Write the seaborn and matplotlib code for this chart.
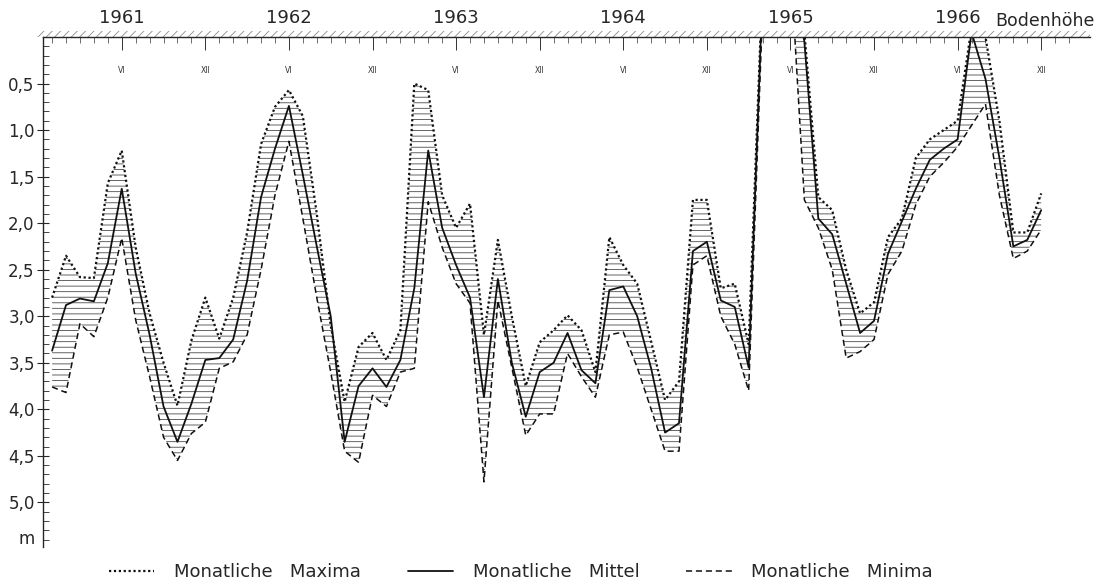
import numpy as np
import pandas as pd
import matplotlib
matplotlib.use('Agg')
from matplotlib import pyplot as plt
import seaborn as sns

# Flurabstand (m unter Bodenhoehe), monatlich Jan 1961 - Dez 1966
years = [1961, 1962, 1963, 1964, 1965, 1966]
month_labels = ['VI', 'XII']
y_ticks = [0.5, 1.0, 1.5, 2.0, 2.5, 3.0, 3.5, 4.0, 4.5, 5.0]
y_labels = ['0,5', '1,0', '1,5', '2,0', '2,5', '3,0', '3,5', '4,0', '4,5', '5,0']

maxima = [2.80, 2.35, 2.58, 2.59, 1.57, 1.22, 2.26, 2.97, 3.50, 3.96, 3.26, 2.80,
          3.24, 2.80, 2.10, 1.15, 0.75, 0.57, 0.85, 1.90, 3.10, 3.92, 3.33, 3.18,
          3.47, 3.15, 0.50, 0.57, 1.70, 2.05, 1.79, 3.20, 2.18, 3.00, 3.75, 3.28,
          3.15, 2.99, 3.15, 3.60, 2.15, 2.45, 2.65, 3.27, 3.90, 3.70, 1.75, 1.75,
          2.70, 2.65, 3.30, -0.60, -0.80, -0.80, -0.05, 1.72, 1.86, 2.50, 2.97, 2.85,
          2.15, 1.95, 1.30, 1.10, 1.00, 0.90, -0.10, 0.00, 0.90, 2.10, 2.10, 1.68]

mittel = [3.37, 2.88, 2.81, 2.84, 2.43, 1.63, 2.54, 3.20, 3.97, 4.35, 3.94, 3.47,
          3.45, 3.25, 2.62, 1.72, 1.20, 0.74, 1.48, 2.25, 3.00, 4.35, 3.75, 3.56,
          3.76, 3.47, 2.70, 1.22, 2.05, 2.45, 2.80, 3.87, 2.60, 3.50, 4.08, 3.60,
          3.50, 3.18, 3.58, 3.72, 2.72, 2.68, 3.00, 3.56, 4.25, 4.15, 2.30, 2.20,
          2.83, 2.90, 3.55, -0.50, -0.80, -0.80, 0.05, 1.95, 2.12, 2.65, 3.18, 3.05,
          2.33, 1.98, 1.63, 1.32, 1.20, 1.10, -0.05, 0.45, 1.30, 2.25, 2.18, 1.86]

minima = [3.76, 3.82, 3.08, 3.22, 2.80, 2.16, 3.04, 3.65, 4.30, 4.55, 4.26, 4.14,
          3.56, 3.49, 3.20, 2.50, 1.70, 1.12, 1.95, 2.80, 3.60, 4.45, 4.57, 3.85,
          3.97, 3.60, 3.56, 1.77, 2.26, 2.65, 2.86, 4.78, 2.83, 3.55, 4.28, 4.05,
          4.05, 3.40, 3.65, 3.87, 3.20, 3.17, 3.55, 4.00, 4.45, 4.45, 2.45, 2.35,
          3.00, 3.30, 3.80, -0.30, -0.80, -0.80, 1.75, 2.05, 2.50, 3.45, 3.38, 3.25,
          2.55, 2.30, 1.80, 1.50, 1.35, 1.18, 0.95, 0.72, 1.70, 2.38, 2.30, 2.07]


def main():
    df = pd.DataFrame({'monat': np.arange(len(mittel)),
                       'max': maxima, 'mittel': mittel, 'min': minima})

    sns.set_style('ticks')
    plt.rcParams['font.family'] = ['DejaVu Sans']
    plt.rcParams['hatch.linewidth'] = 0.6
    plt.rcParams['hatch.color'] = '#4a4a4a'

    fig = plt.figure(figsize=(10.95, 5.83), dpi=100)
    ax = fig.add_axes([0.0393, 0.0617, 0.9561, 0.8748])

    # horizontal hatching between maxima and minima
    ax.fill_between(df['monat'], df['max'], df['min'], facecolor='none',
                    edgecolor='#4a4a4a', hatch='---', linewidth=0)

    sns.lineplot(data=df, x='monat', y='max', ax=ax, color='#111111', lw=1.6,
                 linestyle=(0, (1, 1.2)), label='Monatliche   Maxima',
                 errorbar=None, legend=False)
    sns.lineplot(data=df, x='monat', y='mittel', ax=ax, color='#111111', lw=1.3,
                 label='Monatliche   Mittel', errorbar=None, legend=False)
    sns.lineplot(data=df, x='monat', y='min', ax=ax, color='#111111', lw=1.1,
                 linestyle=(0, (4, 2.5)), label='Monatliche   Minima',
                 errorbar=None, legend=False)

    ax.set_xlim(-0.65, 74.5)
    ax.set_ylim(5.48, 0)
    ax.set_xlabel('')
    ax.set_ylabel('')

    # ground surface (Bodenhoehe) with hatched band
    ax.axhspan(-0.07, 0, xmin=-0.006, xmax=1.0, fill=False, hatch='////',
               edgecolor='#8a8a8a', linewidth=0, clip_on=False)
    for side in ['right', 'bottom']:
        ax.spines[side].set_visible(False)
    ax.spines['top'].set_linewidth(1.0)
    ax.spines['left'].set_linewidth(1.0)

    # month ticks hanging down from the ground line
    ax.xaxis.set_ticks_position('top')
    ax.set_xticks(range(5, 72, 6), labels=month_labels * len(years))
    ax.set_xticks(range(0, 74), minor=True)
    ax.tick_params(axis='x', which='major', direction='in', length=9, width=0.7,
                   labelsize=5.5, pad=-27, top=True, bottom=False,
                   labeltop=True, labelbottom=False, colors='#333333')
    ax.tick_params(axis='x', which='minor', direction='in', length=4, width=0.6,
                   top=True, bottom=False, colors='#555555')

    sec = ax.secondary_xaxis('top')
    sec.set_xticks(range(5, 72, 12), labels=[str(y) for y in years])
    sec.tick_params(length=0, pad=7, labelsize=13)
    sec.spines['top'].set_visible(False)
    ax.annotate('Bodenhöhe', xy=(1, 1), xycoords='axes fraction', xytext=(3, 5),
                textcoords='offset points', ha='right', va='bottom', fontsize=12.5)

    ax.set_yticks(y_ticks, labels=y_labels)
    ax.set_yticks(np.arange(0.1, 5.45, 0.1), minor=True)
    ax.tick_params(axis='y', which='major', direction='inout', length=8, width=0.8,
                   labelsize=12, pad=2)
    ax.tick_params(axis='y', which='minor', direction='in', length=4, width=0.6)
    ax.text(-0.008, 5.39, 'm', transform=ax.get_yaxis_transform(), ha='right',
            va='center', fontsize=12)

    handles, labels = ax.get_legend_handles_labels()
    fig.legend(handles, labels, loc='center', bbox_to_anchor=(521 / 1095, 0.019),
               ncol=3, frameon=False, fontsize=13, handlelength=2.5,
               handletextpad=1.1, columnspacing=2.6)

    fig.savefig('out.png', dpi=100, facecolor='white')


if __name__ == '__main__':
    main()
